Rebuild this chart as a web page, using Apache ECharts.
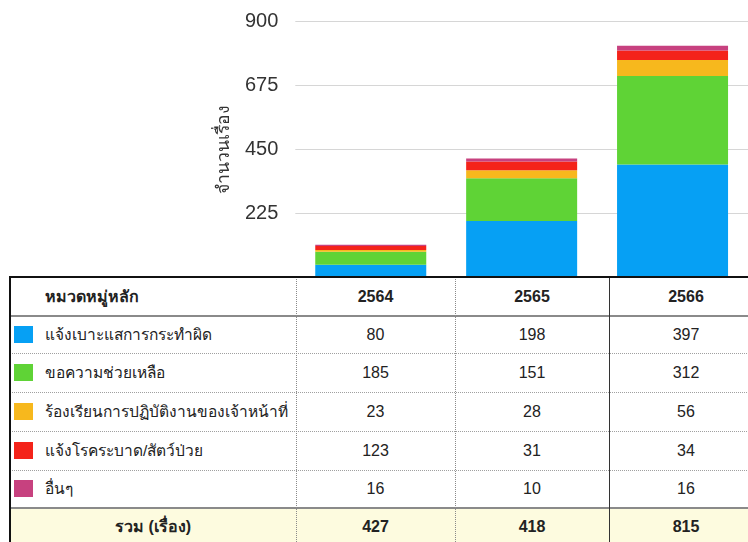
<!DOCTYPE html>
<html>
<head>
<meta charset="utf-8">
<script src="https://cdn.jsdelivr.net/npm/echarts@6/dist/echarts.min.js"></script>
<style>
  html, body { margin:0; padding:0; background:#fff; }
  #wrap { position:relative; width:748px; height:542px; overflow:hidden; }
  #chart { position:absolute; left:0; top:0; width:748px; height:542px; }
  #table { position:absolute; left:0; top:0; width:748px; height:542px; pointer-events:none; font-family:'Liberation Sans', Arial, sans-serif; color:#222; }
  .cell { position:absolute; display:flex; align-items:center; white-space:nowrap; font-size:16px; }
  .cat { font-size:15.5px; }
  .ln { position:absolute; }
</style>
</head>
<body>
<div id="wrap">
  <div id="chart"></div>
  <div id="table"></div>
</div>
<script>
// ---- data ----
const years = ['2564', '2565', '2566'];
const categories = ['แจ้งเบาะแสการกระทำผิด', 'ขอความช่วยเหลือ', 'ร้องเรียนการปฏิบัติงานของเจ้าหน้าที่', 'แจ้งโรคระบาด/สัตว์ป่วย', 'อื่นๆ'];
const colors = ['#06a0f4', '#5fd336', '#f7b81d', '#f4231a', '#c7417f'];
// bar heights as drawn in the chart
const barTips = [44, 198, 397];
const barHelp = [46, 151, 312];
const barComplaint = [6, 28, 56];
const barDisease = [14, 31, 34];
const barOther = [5, 10, 16];
// table values
const tabTips = [80, 198, 397];
const tabHelp = [185, 151, 312];
const tabComplaint = [23, 28, 56];
const tabDisease = [123, 31, 34];
const tabOther = [16, 10, 16];
const totals = [427, 418, 815];
const yTicks = [0, 225, 450, 675, 900];
const headerLabel = 'หมวดหมู่หลัก';
const totalLabel = 'รวม (เรื่อง)';
const yName = 'จำนวนเรื่อง';

const barSeries = [barTips, barHelp, barComplaint, barDisease, barOther];
const tabRows = [tabTips, tabHelp, tabComplaint, tabDisease, tabOther];

const chart = echarts.init(document.getElementById('chart'), null, { renderer: 'canvas' });
chart.setOption({
  animation: false,
  grid: { left: 295.3, top: 21.7, width: 466.5, height: 255.6 },
  xAxis: {
    type: 'category', data: years,
    axisLine: { lineStyle: { color: '#111', width: 1.5 } },
    axisTick: { show: false }, axisLabel: { show: false }
  },
  yAxis: {
    type: 'value', min: yTicks[0], max: yTicks[yTicks.length - 1], interval: yTicks[1] - yTicks[0],
    name: yName, nameLocation: 'middle', nameRotate: 90, nameGap: 62,
    nameTextStyle: { fontSize: 17.5, color: '#333', fontFamily: 'Liberation Sans, Arial, sans-serif' },
    axisLine: { show: false }, axisTick: { show: false },
    axisLabel: { fontSize: 20, color: '#333', margin: 17, showMinLabel: false, fontFamily: 'Liberation Sans, Arial, sans-serif' },
    splitLine: { lineStyle: { color: '#d6d6d6', width: 1 } }
  },
  series: barSeries.map((d, i) => ({
    type: 'bar', stack: 'total', name: categories[i], data: d,
    barWidth: 111, itemStyle: { color: colors[i] }
  }))
});

// ---- table (HTML overlay) ----
const tbl = document.getElementById('table');
const colX = [10, 296, 455, 609, 763];
const rowY = [277, 316, 353, 392.5, 431, 470, 507.5, 546];
function add(cls, style, text) {
  const d = document.createElement('div');
  d.className = cls;
  Object.assign(d.style, style);
  if (text !== undefined) d.textContent = text;
  tbl.appendChild(d);
  return d;
}
// backgrounds
add('ln', { left: colX[0] + 'px', top: rowY[0] + 'px', width: (colX[4] - colX[0]) + 'px', height: (rowY[7] - rowY[0]) + 'px', background: '#fff' });
add('ln', { left: colX[0] + 'px', top: rowY[6] + 'px', width: (colX[4] - colX[0]) + 'px', height: (rowY[7] - rowY[6]) + 'px', background: '#fdfbdf' });
// horizontal lines
for (let r = 2; r < 6; r++) {
  add('ln', { left: colX[0] + 'px', top: (rowY[r] - 0.5) + 'px', width: (colX[4] - colX[0]) + 'px', height: '0px', borderTop: '1px dotted #a0a0a0' });
}
add('ln', { left: colX[0] + 'px', top: (rowY[1] - 1) + 'px', width: (colX[4] - colX[0]) + 'px', height: '2px', background: '#8a8a8a' });
add('ln', { left: colX[0] + 'px', top: (rowY[6] - 1) + 'px', width: (colX[4] - colX[0]) + 'px', height: '2px', background: '#8a8a8a' });
// vertical lines
add('ln', { left: (colX[1] - 0.5) + 'px', top: rowY[0] + 'px', width: '0px', height: (rowY[7] - rowY[0]) + 'px', borderLeft: '1px dotted #8a8a8a' });
add('ln', { left: (colX[2] - 0.5) + 'px', top: rowY[0] + 'px', width: '0px', height: (rowY[7] - rowY[0]) + 'px', borderLeft: '1px dotted #8a8a8a' });
add('ln', { left: (colX[3] - 0.5) + 'px', top: rowY[0] + 'px', width: '1px', height: (rowY[7] - rowY[0]) + 'px', background: '#333' });
// outer border
add('ln', { left: (colX[0] - 1) + 'px', top: (rowY[0] - 1) + 'px', width: '1.5px', height: (rowY[7] - rowY[0] + 1) + 'px', background: '#111' });
add('ln', { left: (colX[0] - 1) + 'px', top: (rowY[0] - 1) + 'px', width: (colX[4] - colX[0]) + 'px', height: '1.5px', background: '#111' });

function cellBox(c0, c1, r, text, opts, cls) {
  const st = { left: c0 + 'px', top: rowY[r] + 'px', width: (c1 - c0) + 'px', height: (rowY[r + 1] - rowY[r]) + 'px' };
  Object.assign(st, opts || {});
  return add(cls || 'cell', st, text);
}
// header
cellBox(45, colX[1], 0, headerLabel, { fontWeight: 'bold' });
years.forEach((y, j) => cellBox(colX[j + 1], colX[j + 2], 0, y, { justifyContent: 'center', fontWeight: 'bold' }));
// data rows
categories.forEach((cat, i) => {
  const r = i + 1;
  const mid = (rowY[r] + rowY[r + 1]) / 2;
  add('ln', { left: '14px', top: (mid - 9) + 'px', width: '19px', height: '17px', background: colors[i] });
  cellBox(45, colX[1], r, cat, null, 'cell cat');
  tabRows[i].forEach((v, j) => cellBox(colX[j + 1], colX[j + 2], r, String(v), { justifyContent: 'center' }));
});
// total row
cellBox(colX[0], colX[1], 6, totalLabel, { justifyContent: 'center', fontWeight: 'bold' });
totals.forEach((v, j) => cellBox(colX[j + 1], colX[j + 2], 6, String(v), { justifyContent: 'center', fontWeight: 'bold' }));
</script>
</body>
</html>
